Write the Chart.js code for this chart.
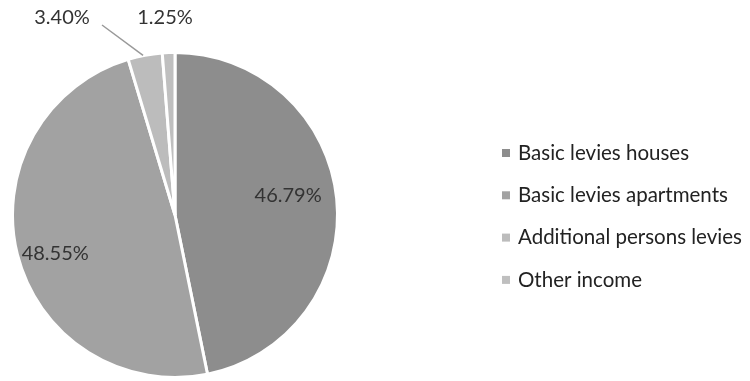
<!DOCTYPE html>
<html><head><meta charset="utf-8">
<script src="https://cdn.jsdelivr.net/npm/chart.js@4/dist/chart.umd.min.js"></script>
<style>html,body{margin:0;padding:0;background:#fff}#wrap{width:750px;height:381px;position:relative}</style>
</head><body><div id="wrap"><canvas id="c" width="750" height="381"></canvas></div>
<script>
const categories = ["Basic levies houses","Basic levies apartments","Additional persons levies","Other income"];
const values = [46.79, 48.55, 3.40, 1.25];
const valueLabels = ["46.79%","48.55%","3.40%","1.25%"];
const colors = ["#8d8d8d","#a2a2a2","#bcbcbc","#bfbfbf"];

const FONT = "Lato, 'Open Sans', sans-serif";

const labelPlugin = {
  id: 'labels',
  afterDatasetsDraw(chart) {
    const ctx = chart.ctx;
    const meta = chart.getDatasetMeta(0);
    ctx.save();
    ctx.fillStyle = '#333';
    ctx.font = '20px ' + FONT;
    ctx.textAlign = 'center';
    ctx.textBaseline = 'middle';
    meta.data.forEach((arc, i) => {
      const p = arc.getProps(['x','y','startAngle','endAngle','outerRadius']);
      const mid = (p.startAngle + p.endAngle) / 2;
      if (i === 0) {
        const rr = p.outerRadius * 0.7;
        ctx.fillText(valueLabels[i], p.x + Math.cos(mid) * rr, p.y + Math.sin(mid) * rr - 8);
      } else if (i === 1) {
        const rr = p.outerRadius * 0.76;
        ctx.fillText(valueLabels[i], p.x + Math.cos(mid) * rr, p.y + Math.sin(mid) * rr + 8);
      } else if (i === 2) {
        const ex = p.x + Math.cos(mid) * p.outerRadius, ey = p.y + Math.sin(mid) * p.outerRadius;
        ctx.strokeStyle = '#999'; ctx.lineWidth = 1.5;
        ctx.beginPath(); ctx.moveTo(ex - 2, ey); ctx.lineTo(102, 25); ctx.stroke();
        ctx.fillText(valueLabels[i], 62, 18);
      } else {
        ctx.fillText(valueLabels[i], p.x - 10, 18);
      }
    });
    // legend
    ctx.textAlign = 'left';
    ctx.font = '20.5px ' + FONT;
    categories.forEach((c, i) => {
      const y = 153 + i * 42.3;
      ctx.fillStyle = colors[i];
      ctx.fillRect(502, y - 4, 8, 8);
      ctx.fillStyle = '#222';
      ctx.fillText(c, 518, y);
    });
    ctx.restore();
  }
};

new Chart(document.getElementById('c'), {
  type: 'pie',
  data: { labels: categories, datasets: [{ data: values, backgroundColor: colors, borderColor: '#fff', borderWidth: 3 }] },
  options: {
    responsive: false, animation: false,
    layout: { padding: { left: 11, right: 411, top: 51, bottom: 2 } },
    plugins: { legend: { display: false }, tooltip: { enabled: false } }
  },
  plugins: [labelPlugin]
});
</script></body></html>
